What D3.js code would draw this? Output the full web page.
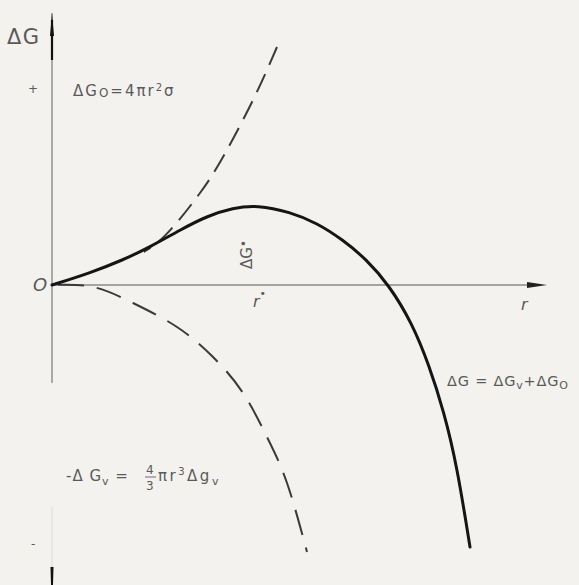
<!DOCTYPE html>
<html>
<head>
<meta charset="utf-8">
<script src="https://cdn.jsdelivr.net/npm/d3@7/dist/d3.min.js"></script>
<style>
  html, body { margin: 0; padding: 0; background: #f3f2ee; }
  svg { display: block; }
  text { font-family: "DejaVu Sans", sans-serif; fill: #5a5a5a; }
</style>
</head>
<body>
<svg id="chart" width="579" height="585"></svg>
<script>
// Free energy of nucleus formation versus radius r (arbitrary units)
// Total ΔG = ΔGv + ΔGo
const totalR = [0, 0.76, 1.42, 1.96, 2.56, 3.10, 3.62, 4.10, 4.76, 5.30, 5.82, 6.28, 6.74, 7.20, 7.54, 7.84, 8.10, 8.36];
const totalG = [0, 0.24, 0.50, 0.76, 1.10, 1.38, 1.54, 1.60, 1.46, 1.24, 0.90, 0.52, 0, -0.76, -1.60, -2.54, -3.62, -5.24];

// Surface term ΔGo = 4πr²σ
const surfR = [0, 0.48, 1.16, 1.90, 2.42, 2.96, 3.42, 4.02, 4.50];
const surfG = [0, 0.08, 0.34, 0.70, 1.16, 1.84, 2.56, 3.70, 4.76];

// Volume term ΔGv = -(4/3)πr³Δgv
const volR = [0, 0.82, 1.62, 2.50, 3.22, 3.82, 4.30, 4.70, 5.10];
const volG = [0, -0.04, -0.36, -0.84, -1.44, -2.16, -3.04, -3.96, -5.34];

// Critical radius r* and barrier ΔG*
const rStar = 4.1;
const gStar = 1.60;

const svg = d3.select("#chart");

const x = d3.scaleLinear().domain([0, 10]).range([52, 552]);
const y = d3.scaleLinear().domain([-6, 5.44]).range([585, 13]);

const zip = (a, b) => a.map((v, i) => [v, b[i]]);
const line = d3.line().x(d => x(d[0])).y(d => y(d[1])).curve(d3.curveNatural);
const smooth = d3.line().x(d => x(d[0])).y(d => y(d[1])).curve(d3.curveBasis);

// Below the total curve the surface term merges with it, so only its upper branch is dashed
svg.append("clipPath").attr("id", "surf-clip")
  .append("rect").attr("x", x(1.84)).attr("y", 0).attr("width", 579).attr("height", 585);

// Axes
const axisColor = "#8a8a8a";
// r axis
svg.append("line")
  .attr("x1", x(0)).attr("x2", x(9.5))
  .attr("y1", y(0)).attr("y2", y(0))
  .attr("stroke", axisColor).attr("stroke-width", 1.3);
svg.append("path")
  .attr("d", `M${x(9.5)},${y(0) - 3}L${x(9.9)},${y(0)}L${x(9.5)},${y(0) + 3}Z`)
  .attr("fill", "#222");

// ΔG axis (upper part, faded lower part, dark foot)
svg.append("line")
  .attr("x1", x(0)).attr("x2", x(0))
  .attr("y1", y(5.44)).attr("y2", y(-1.96))
  .attr("stroke", axisColor).attr("stroke-width", 1.4);
svg.append("line")
  .attr("x1", x(0)).attr("x2", x(0))
  .attr("y1", y(-4.44)).attr("y2", y(-5.64))
  .attr("stroke", "#e2e2de").attr("stroke-width", 1.4);
svg.append("path")
  .attr("d", `M${x(0) - 1.5},${y(-5.64)}L${x(0) + 1.5},${y(-5.64)}L${x(0) + 1},${y(-6)}L${x(0) - 1},${y(-6)}Z`)
  .attr("fill", "#111");
svg.append("path")
  .attr("d", `M${x(0) - 2},${y(4.98)}L${x(0)},${y(5.44)}L${x(0) + 2},${y(4.98)}Z`)
  .attr("fill", "#111");
svg.append("line")
  .attr("x1", x(0)).attr("x2", x(0))
  .attr("y1", y(5.3)).attr("y2", y(4.5))
  .attr("stroke", "#111").attr("stroke-width", 2.2);

// Surface and volume terms (dashed)
svg.append("path")
  .attr("d", line(zip(surfR, surfG)))
  .attr("clip-path", "url(#surf-clip)")
  .attr("fill", "none").attr("stroke", "#3a3a3a").attr("stroke-width", 2)
  .attr("stroke-dasharray", "20,10").attr("stroke-dashoffset", 4);
svg.append("path")
  .attr("d", line(zip(volR, volG)))
  .attr("fill", "none").attr("stroke", "#3a3a3a").attr("stroke-width", 2)
  .attr("stroke-dasharray", "26,13").attr("stroke-dashoffset", -6);

// Total ΔG curve
svg.append("path")
  .attr("d", smooth(zip(totalR, totalG)))
  .attr("fill", "none").attr("stroke", "#151515").attr("stroke-width", 3)
  .attr("stroke-linecap", "round");

// Labels
svg.append("text").attr("x", 7).attr("y", 44)
  .attr("font-size", 21).attr("letter-spacing", 1.5).text("ΔG");
svg.append("text").attr("x", 28).attr("y", 93)
  .attr("font-size", 12).text("+");
svg.append("text").attr("x", 31).attr("y", 548)
  .attr("font-size", 12).text("-");

const lblO = svg.append("text").attr("x", 73).attr("y", 96)
  .attr("font-size", 15).attr("letter-spacing", 2);
lblO.append("tspan").text("ΔG");
lblO.append("tspan").attr("font-size", 12).attr("dy", 1).text("O");
lblO.append("tspan").attr("dy", -1).text("=4πr");
lblO.append("tspan").attr("font-size", 10).attr("dy", -5).text("2");
lblO.append("tspan").attr("dy", 5).text("σ");

svg.append("text").attr("x", x(0) - 19).attr("y", y(0) + 6)
  .attr("font-size", 18).attr("font-style", "italic").text("O");

// r axis label
svg.append("text").attr("x", 521).attr("y", 310)
  .attr("font-size", 16).attr("font-style", "italic").text("r");

// r* under the axis
const lblR = svg.append("text").attr("x", x(rStar) - 4).attr("y", y(0) + 22)
  .attr("font-size", 16).attr("font-style", "italic");
lblR.append("tspan").text("r");
lblR.append("tspan").attr("font-size", 11).attr("font-style", "normal").attr("dy", -10).text("•");

// ΔG* written vertically below the maximum
const lblG = svg.append("text")
  .attr("transform", `translate(${x(rStar) - 5},${y(gStar) + 64}) rotate(-90)`)
  .attr("font-size", 15);
lblG.append("tspan").text("ΔG");
lblG.append("tspan").attr("font-size", 12).attr("dy", -4).text("•");

// Total ΔG equation
const lblT = svg.append("text").attr("x", 447).attr("y", 386)
  .attr("font-size", 14.5).attr("letter-spacing", 0.8);
lblT.append("tspan").text("ΔG = ΔG");
lblT.append("tspan").attr("font-size", 11).attr("dy", 3).text("v");
lblT.append("tspan").attr("dy", -3).text("+ΔG");
lblT.append("tspan").attr("font-size", 11).attr("dy", 3).text("O");

// Volume term equation with stacked fraction
const lblV = svg.append("text").attr("x", 66).attr("y", 481)
  .attr("font-size", 15).attr("letter-spacing", 1);
lblV.append("tspan").text("-Δ G");
lblV.append("tspan").attr("font-size", 11).attr("dy", 4).text("v");
lblV.append("tspan").attr("dy", -4).text(" = ");
svg.append("text").attr("x", 146).attr("y", 474).attr("font-size", 12).text("4");
svg.append("line").attr("x1", 145).attr("x2", 156).attr("y1", 477).attr("y2", 477)
  .attr("stroke", "#6a6a6a").attr("stroke-width", 1);
svg.append("text").attr("x", 146).attr("y", 490).attr("font-size", 12).text("3");
const lblV2 = svg.append("text").attr("x", 158).attr("y", 481)
  .attr("font-size", 15).attr("letter-spacing", 2.5);
lblV2.append("tspan").text("πr");
lblV2.append("tspan").attr("font-size", 10).attr("dy", -6).text("3");
lblV2.append("tspan").attr("dy", 6).text("Δg");
lblV2.append("tspan").attr("font-size", 11).attr("dy", 4).text("v");
</script>
</body>
</html>
